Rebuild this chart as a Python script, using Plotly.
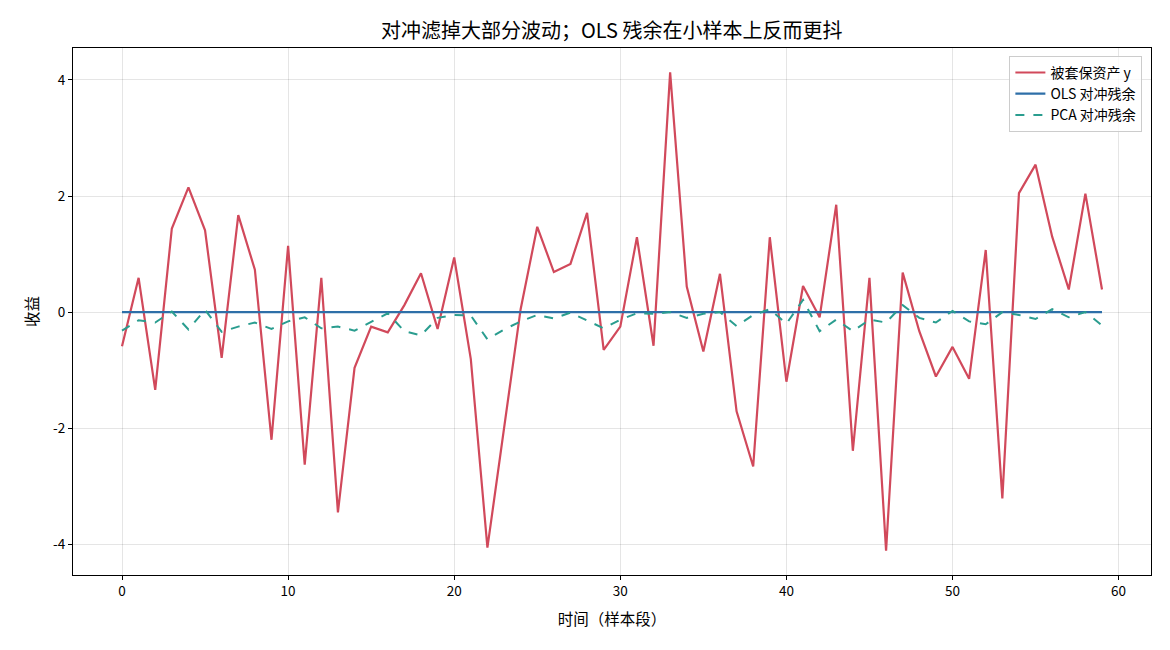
import plotly.graph_objects as go

t = list(range(60))

asset_y = [-0.59, 0.59, -1.34, 1.44, 2.15, 1.41, -0.79, 1.67, 0.73, -2.20,
           1.14, -2.63, 0.59, -3.45, -0.96, -0.25, -0.35, 0.12, 0.67, -0.29,
           0.94, -0.81, -4.06, -2.02, 0.05, 1.47, 0.69, 0.83, 1.71, -0.65,
           -0.25, 1.29, -0.58, 4.13, 0.44, -0.68, 0.66, -1.71, -2.66, 1.29,
           -1.20, 0.45, -0.09, 1.85, -2.39, 0.59, -4.11, 0.68, -0.33, -1.11,
           -0.60, -1.15, 1.07, -3.21, 2.05, 2.54, 1.30, 0.39, 2.04, 0.39]

ols_resid = [0.0] * 60

pca_resid = [-0.32, -0.14, -0.18, 0.01, -0.30, 0.04, -0.34, -0.25, -0.18, -0.29,
             -0.16, -0.09, -0.28, -0.25, -0.32, -0.17, -0.02, -0.33, -0.40, -0.10,
             -0.05, -0.06, -0.47, -0.30, -0.16, -0.05, -0.11, -0.01, -0.14, -0.28,
             -0.13, -0.02, -0.03, 0.00, -0.10, -0.03, 0.00, -0.24, -0.05, 0.05,
             -0.20, 0.21, -0.33, -0.13, -0.33, -0.13, -0.18, 0.12, -0.10, -0.18,
             0.02, -0.16, -0.21, 0.00, -0.05, -0.12, 0.05, -0.09, 0.00, -0.23]

x_ticks = [0, 10, 20, 30, 40, 50, 60]
y_ticks = [-4, -2, 0, 2, 4]
y_ticktext = ["-4", "-2", "0", "2", "4"]

font_name = "Noto Sans CJK SC"

fig = go.Figure()
fig.add_trace(go.Scatter(x=t, y=asset_y, mode="lines", name="被套保资产 y",
                         line=dict(color="#d1495b", width=2.2)))
fig.add_trace(go.Scatter(x=t, y=ols_resid, mode="lines", name="OLS 对冲残余",
                         line=dict(color="#2e6fa8", width=2.2)))
fig.add_trace(go.Scatter(x=t, y=pca_resid, mode="lines", name="PCA 对冲残余",
                         line=dict(color="#2a9d8f", width=2, dash="dash")))

axis_common = dict(showline=True, linecolor="black", linewidth=1, mirror=True,
                   ticks="outside", ticklen=4, tickcolor="black",
                   showgrid=True, gridcolor="rgba(0,0,0,0.1)", gridwidth=1,
                   zeroline=False, tickfont=dict(size=13.5, color="black"))

fig.update_layout(
    width=1170, height=650,
    paper_bgcolor="white", plot_bgcolor="white",
    font=dict(family=font_name, color="black"),
    margin=dict(l=65, r=27, t=40, b=83),
    title=dict(text="对冲滤掉大部分波动；OLS 残余在小样本上反而更抖",
               x=0.516, xanchor="center", y=0.965, yanchor="middle",
               font=dict(size=20)),
    xaxis=dict(range=[-2.95, 61.95], tickvals=x_ticks,
               title=dict(text="时间（样本段）", font=dict(size=15.5), standoff=14),
               **axis_common),
    yaxis=dict(range=[-4.53, 4.55], tickvals=y_ticks, ticktext=y_ticktext,
               title=dict(text="收益", font=dict(size=15.5), standoff=10),
               **axis_common),
    legend=dict(x=0.992, y=0.985, xanchor="right", yanchor="top",
                bgcolor="rgba(255,255,255,0.8)", bordercolor="#cccccc",
                borderwidth=1, font=dict(size=14), tracegroupgap=0),
    showlegend=True,
)

fig.write_html("out.html")
